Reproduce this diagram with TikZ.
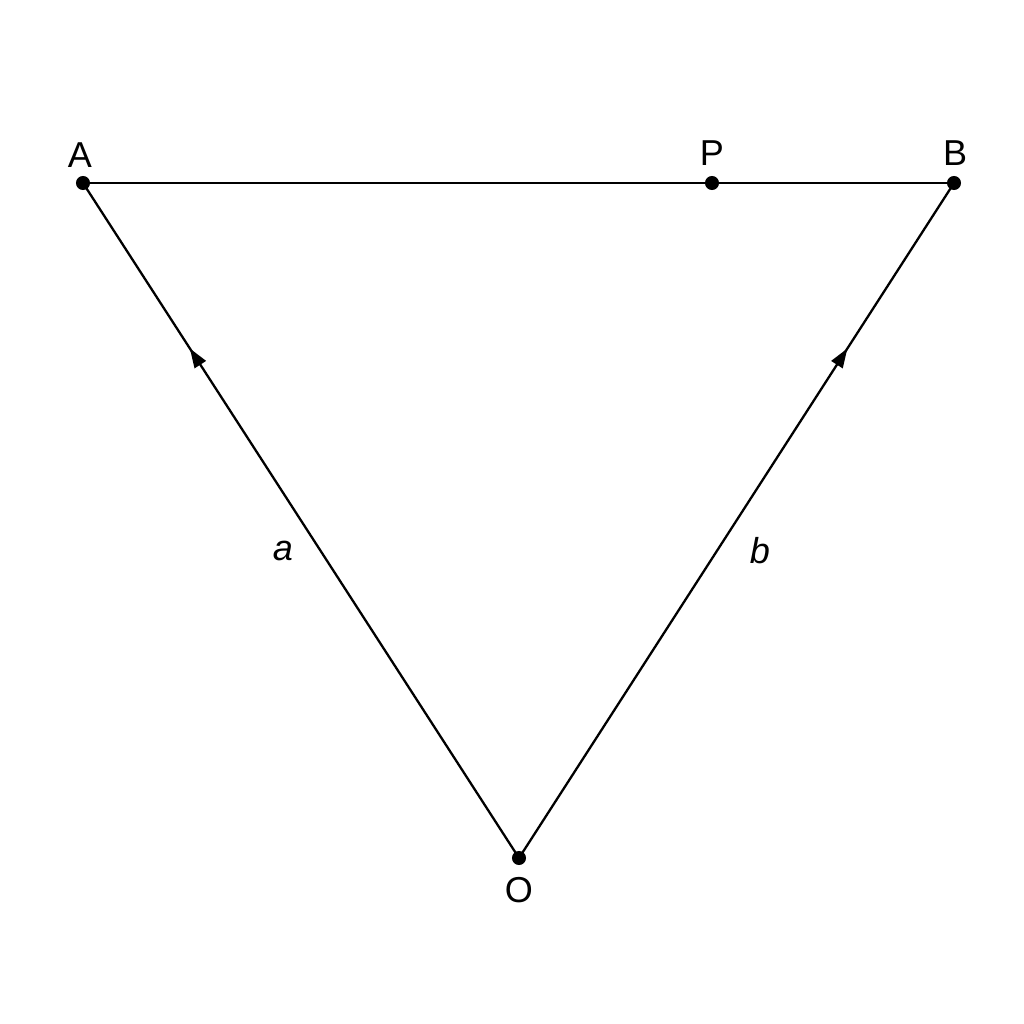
\documentclass[tikz,border=0pt]{standalone}
\usepackage{fontspec}
\setmainfont{Liberation Sans}
\usetikzlibrary{arrows.meta,decorations.markings}
\begin{document}
\begin{tikzpicture}[x=0.02cm,y=-0.02cm,
  pt/.style={circle,fill=black,inner sep=0pt,minimum size=8pt},
  lbl/.style={font=\fontsize{20.5}{24}\selectfont,inner sep=0pt},
  edge/.style={line width=1.3pt},
  midarrow/.style={postaction={decorate},decoration={markings,
     mark=at position #1 with {\arrow{Triangle[length=11pt,width=7.5pt]}}}}]
\useasboundingbox[fill=white] (0,0) rectangle (1024,1024);
\node[pt] (A) at (83,183) {};
\node[pt] (P) at (712,183) {};
\node[pt] (B) at (954,183) {};
\node[pt] (O) at (519,858) {};
\node[lbl] (lA) at (80,155) {A};
\node[lbl] (lP) at (712,153) {P};
\node[lbl] (lB) at (955,153) {B};
\node[lbl] (lO) at (519,890) {O};
\node[lbl] (la) at (283,551) {\itshape a};
\node[lbl] (lb) at (760,551) {\itshape b};
\draw[edge] (A.center) -- (P.center) -- (B.center);
\draw[edge,midarrow=0.755] (O.center) -- (A.center);
\draw[edge,midarrow=0.755] (O.center) -- (B.center);
\end{tikzpicture}
\end{document}
